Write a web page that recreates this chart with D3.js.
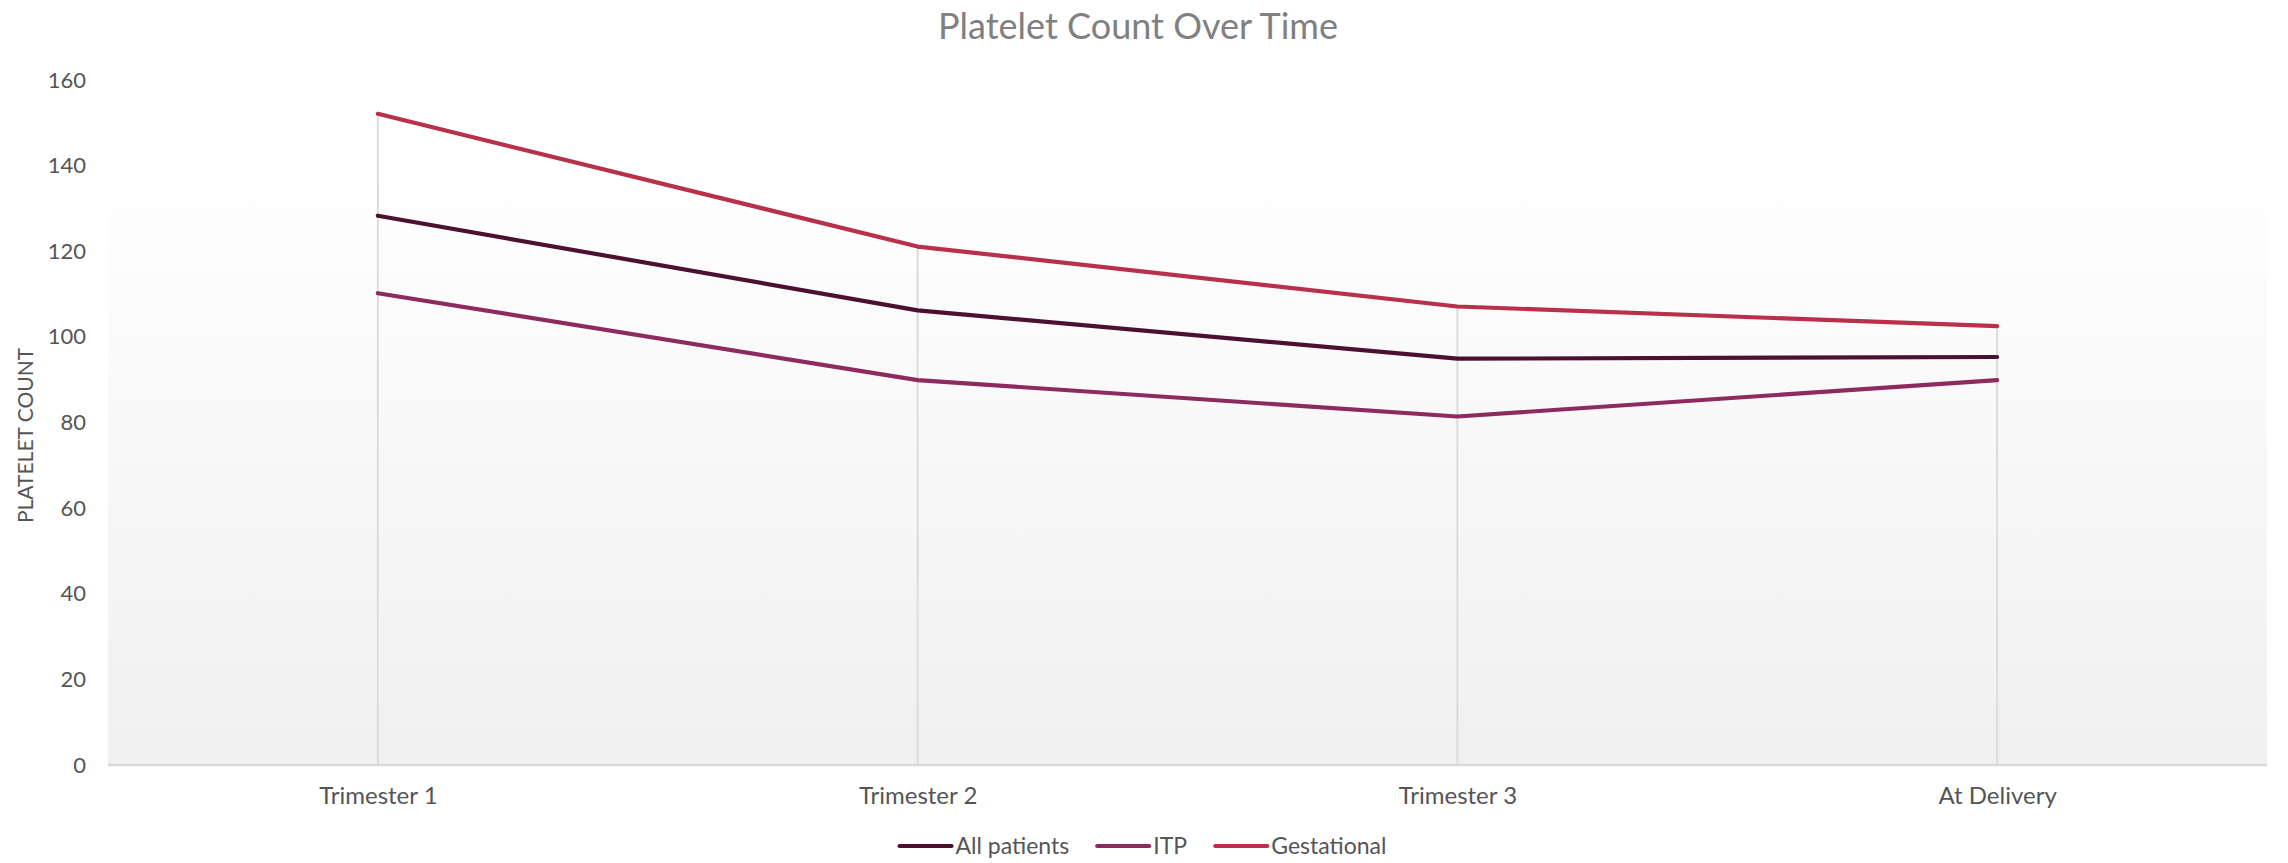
<!DOCTYPE html>
<html>
<head>
<meta charset="utf-8">
<script src="https://cdn.jsdelivr.net/npm/d3@7"></script>
<style>
  html, body { margin: 0; padding: 0; background: #ffffff; }
  svg { display: block; font-family: Lato, "Open Sans", sans-serif; }
</style>
</head>
<body>
<svg id="chart" width="2288" height="863"></svg>
<script>
// Stages of pregnancy on the x axis
const categories = ["Trimester 1", "Trimester 2", "Trimester 3", "At Delivery"];

// Mean platelet count per group
const allPatients = [128.3, 106.2, 94.9, 95.3];
const itp         = [110.2, 89.9, 81.4, 89.9];
const gestational = [152.1, 121.1, 107.1, 102.5];

const seriesNames  = ["All patients", "ITP", "Gestational"];
const seriesColors = ["#4c1131", "#8d2b60", "#b9304b"];

const yTicks = [0, 20, 40, 60, 80, 100, 120, 140, 160];

const chartTitle = "Platelet Count Over Time";
const yAxisTitle = "PLATELET COUNT";

const series = [allPatients, itp, gestational].map((values, i) => ({
  name: seriesNames[i],
  color: seriesColors[i],
  values
}));

const W = 2288, H = 863;
const margin = { top: 80, right: 21, bottom: 98, left: 108 };
const plotW = W - margin.left - margin.right;
const plotH = H - margin.top - margin.bottom;

const svg = d3.select("#chart");

const x = d3.scalePoint().domain(categories).range([0, plotW]).padding(0.5);
const y = d3.scaleLinear().domain([0, 160]).range([plotH, 0]);

// Plot background: soft vertical gradient
const defs = svg.append("defs");
const grad = defs.append("linearGradient")
  .attr("id", "plotBg").attr("x1", 0).attr("y1", 0).attr("x2", 0).attr("y2", 1);
grad.append("stop").attr("offset", "0%").attr("stop-color", "#ffffff");
grad.append("stop").attr("offset", "12%").attr("stop-color", "#ffffff");
grad.append("stop").attr("offset", "100%").attr("stop-color", "#f0f0f0");

const g = svg.append("g").attr("transform", `translate(${margin.left},${margin.top})`);

g.append("rect")
  .attr("x", 0).attr("y", 0)
  .attr("width", plotW).attr("height", plotH)
  .attr("fill", "url(#plotBg)");

// Drop lines from the highest value of each category to the baseline
g.append("g").selectAll("line")
  .data(categories)
  .join("line")
  .attr("x1", d => x(d)).attr("x2", d => x(d))
  .attr("y1", (d, i) => y(d3.max(series, s => s.values[i])))
  .attr("y2", plotH)
  .attr("stroke", "#dcdcdc")
  .attr("stroke-width", 2);

// Baseline
g.append("line")
  .attr("x1", 0).attr("x2", plotW)
  .attr("y1", plotH).attr("y2", plotH)
  .attr("stroke", "#d9d9d9")
  .attr("stroke-width", 2.5);

// Y axis labels
const yAxis = d3.axisLeft(y).tickValues(yTicks).tickSize(0).tickPadding(22);
const yG = g.append("g").call(yAxis);
yG.select(".domain").remove();
yG.selectAll("text")
  .attr("fill", "#555555")
  .style("font-size", "22px")
  .style("font-family", "Lato, sans-serif");

// X axis labels
const xAxis = d3.axisBottom(x).tickSize(0).tickPadding(22);
const xG = g.append("g").attr("transform", `translate(0,${plotH})`).call(xAxis);
xG.select(".domain").remove();
xG.selectAll("text")
  .attr("fill", "#555555")
  .style("font-size", "24px")
  .style("font-family", "Lato, sans-serif");

// Series lines
const line = d3.line()
  .x((d, i) => x(categories[i]))
  .y(d => y(d));

g.append("g").selectAll("path")
  .data(series)
  .join("path")
  .attr("d", d => line(d.values))
  .attr("fill", "none")
  .attr("stroke", d => d.color)
  .attr("stroke-width", 4.2)
  .attr("stroke-linecap", "round")
  .attr("stroke-linejoin", "round");

// Title
svg.append("text")
  .attr("x", W / 2 - 6)
  .attr("y", 39)
  .attr("text-anchor", "middle")
  .attr("fill", "#808080")
  .style("font-size", "36px")
  .text(chartTitle);

// Y axis title
svg.append("text")
  .attr("transform", `translate(33,${margin.top + plotH / 2 + 13}) rotate(-90)`)
  .attr("text-anchor", "middle")
  .attr("fill", "#555555")
  .style("font-size", "21px")
  .text(yAxisTitle);

// Legend, centred below the axis
const legend = svg.append("g");
const lineLen = 52, textGap = 4, itemGap = 28;
let cursor = 0;
const items = legend.selectAll("g.item")
  .data(series)
  .join("g")
  .attr("class", "item");
items.append("line")
  .attr("x1", 0).attr("x2", lineLen)
  .attr("y1", 0).attr("y2", 0)
  .attr("stroke", d => d.color)
  .attr("stroke-width", 4.2)
  .attr("stroke-linecap", "round");
items.append("text")
  .attr("x", lineLen + textGap)
  .attr("y", 0)
  .attr("dy", "0.35em")
  .attr("fill", "#555555")
  .style("font-size", "23px")
  .text(d => d.name);
items.each(function () {
  const w = this.getBBox().width;
  d3.select(this).attr("transform", `translate(${cursor},0)`);
  cursor += w + itemGap;
});
const legendW = cursor - itemGap;
legend.attr("transform", `translate(${W / 2 - 1 - legendW / 2},846)`);
</script>
</body>
</html>
